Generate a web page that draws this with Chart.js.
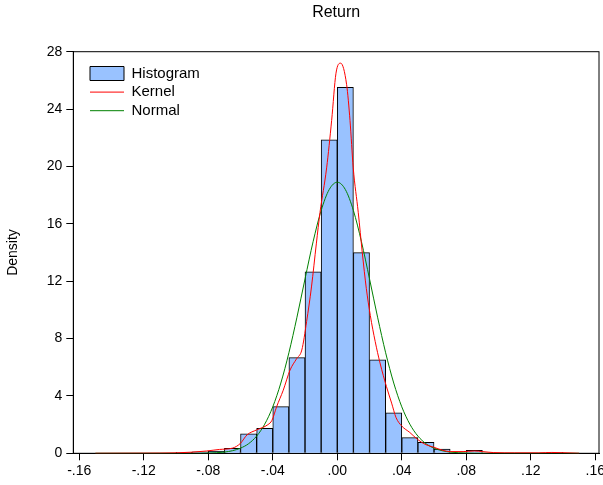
<!DOCTYPE html>
<html>
<head>
<meta charset="utf-8">
<title>Return</title>
<script src="https://cdn.jsdelivr.net/npm/chart.js@4.4.1/dist/chart.umd.min.js"></script>
<style>
  html, body { margin: 0; padding: 0; overflow: hidden; background: #fff; }
  #wrap { position: absolute; left: 0; top: 0; }
</style>
</head>
<body>
<div id="wrap"><canvas id="chart" width="615" height="485"></canvas></div>
<script>
// histogram bins (centre of each 0.01 wide bin) and their density
const binCenters = [-0.095, -0.085, -0.075, -0.065, -0.055, -0.045, -0.035, -0.025, -0.015, -0.005,
                    0.005, 0.015, 0.025, 0.035, 0.045, 0.055, 0.065, 0.075, 0.085, 0.095,
                    0.105, 0.115, 0.125, 0.135];
const histDensity = [0.07, 0.1, 0.15, 0.35, 1.35, 1.74, 3.25, 6.67, 12.66, 21.85,
                     25.52, 13.99, 6.51, 2.83, 1.09, 0.77, 0.3, 0, 0.21, 0,
                     0, 0, 0, 0.07];

// kernel density curve
const kernelX = [-0.15, -0.12, -0.10, -0.09, -0.081, -0.073, -0.065, -0.06, -0.056, -0.05,
                 -0.043, -0.0405, -0.0376, -0.0335, -0.0293, -0.0252, -0.022, -0.019, -0.016, -0.013,
                 -0.0107, -0.0066, -0.0035, -0.0008, 0.0021, 0.0058, 0.0079, 0.0099, 0.013, 0.0155,
                 0.018, 0.0205, 0.0235, 0.0265, 0.0305, 0.0337, 0.0364, 0.04, 0.045, 0.05,
                 0.055, 0.06, 0.065, 0.07, 0.078, 0.085, 0.09, 0.097, 0.11, 0.125,
                 0.133, 0.14, 0.15];
const kernelY = [0, 0.01, 0.03, 0.08, 0.16, 0.27, 0.36, 0.7, 1.28, 1.63,
                 2.0, 2.3, 3.25, 4.4, 5.8, 6.6, 7.2, 9.2, 11.6, 14.6,
                 16.8, 19.9, 23.2, 26.5, 27.2, 25.7, 23.2, 19.9, 16.8, 14.0,
                 11.5, 9.6, 7.8, 6.3, 4.65, 3.5, 2.5, 1.9, 1.45, 0.95,
                 0.6, 0.42, 0.22, 0.12, 0.12, 0.16, 0.12, 0.05, 0.03, 0.03,
                 0.06, 0.04, 0];

// normal curve
const normalX = [-0.15, -0.12, -0.10, -0.09, -0.08, -0.07, -0.065, -0.06, -0.055, -0.05,
                 -0.045, -0.04, -0.035, -0.03, -0.025, -0.02, -0.015, -0.01, -0.005, 0,
                 0.005, 0.01, 0.015, 0.02, 0.025, 0.03, 0.035, 0.04, 0.045, 0.05,
                 0.055, 0.06, 0.065, 0.07, 0.08, 0.09, 0.10, 0.12, 0.15];
const normalY = [0, 0, 0, 0.002, 0.016, 0.085, 0.18, 0.36, 0.67, 1.2,
                 2.03, 3.24, 4.9, 7.01, 9.49, 12.16, 14.75, 16.93, 18.39, 18.9,
                 18.39, 16.93, 14.75, 12.16, 9.49, 7.01, 4.9, 3.24, 2.03, 1.2,
                 0.67, 0.36, 0.18, 0.085, 0.016, 0.002, 0, 0, 0];

const xTickValues = [-0.16, -0.12, -0.08, -0.04, 0, 0.04, 0.08, 0.12, 0.16];
const yTickValues = [0, 4, 8, 12, 16, 20, 24, 28];

Chart.defaults.font.family = "'Liberation Sans', Arial, sans-serif";
Chart.defaults.color = '#000';

function toPoints(xs, ys) {
    return xs.map((x, i) => ({ x: x, y: ys[i] }));
}

// ".04" / "-.16" style labels
function shortLabel(v) {
    let s = Math.abs(v).toFixed(2).replace(/^0/, '');
    return (v < -1e-9 ? '-' : '') + s;
}

// box round the plot area
const framePlugin = {
    id: 'frame',
    beforeDatasetsDraw(chart) {
        const a = chart.chartArea;
        const ctx = chart.ctx;
        ctx.save();
        ctx.strokeStyle = '#000';
        ctx.lineWidth = 1;
        ctx.strokeRect(a.left, a.top, a.right - a.left, a.bottom - a.top);
        ctx.restore();
    }
};

// move the legend a bit inside the plot
const legendShift = {
    id: 'legendShift',
    beforeDraw(chart) {
        if (chart.legend) {
            chart.legend.left = 86.4;
            chart.legend.top = 62.4;
        }
    }
};

new Chart(document.getElementById('chart'), {
    type: 'bar',
    data: {
        datasets: [
            {
                type: 'bar',
                label: 'Histogram',
                data: toPoints(binCenters, histDensity),
                backgroundColor: '#99c2ff',
                borderColor: '#000',
                borderWidth: 1,
                barPercentage: 1,
                categoryPercentage: 1,
                pointStyle: 'rect',
                order: 3
            },
            {
                type: 'line',
                label: 'Kernel',
                data: toPoints(kernelX, kernelY),
                borderColor: '#ff0000',
                backgroundColor: '#ff0000',
                pointBorderColor: '#ff0000',
                borderWidth: 1,
                pointRadius: 0,
                pointStyle: 'line',
                cubicInterpolationMode: 'monotone',
                order: 1
            },
            {
                type: 'line',
                label: 'Normal',
                data: toPoints(normalX, normalY),
                borderColor: '#008000',
                backgroundColor: '#008000',
                pointBorderColor: '#008000',
                borderWidth: 1,
                pointRadius: 0,
                pointStyle: 'line',
                cubicInterpolationMode: 'monotone',
                order: 2
            }
        ]
    },
    options: {
        responsive: false,
        animation: false,
        layout: { padding: { left: 0, right: 16, top: 0, bottom: 0 } },
        scales: {
            x: {
                type: 'linear',
                offset: false,
                min: -0.1637,
                max: 0.1623,
                afterBuildTicks(scale) {
                    scale.ticks = xTickValues.map(v => ({ value: v }));
                },
                afterFit(scale) { scale.height = 31.7; },
                ticks: {
                    autoSkip: false,
                    maxRotation: 0,
                    padding: 2,
                    font: { size: 14 },
                    callback: v => shortLabel(v)
                },
                grid: { offset: false, drawOnChartArea: false, drawTicks: true, tickLength: 7, color: '#000' },
                border: { display: true, color: '#000', width: 1 }
            },
            y: {
                min: 0,
                max: 28,
                afterBuildTicks(scale) {
                    scale.ticks = yTickValues.map(v => ({ value: v }));
                },
                afterFit(scale) { scale.width = 73.3; },
                ticks: { padding: 4, font: { size: 14 } },
                grid: { drawOnChartArea: false, drawTicks: true, tickLength: 7, color: '#000' },
                border: { display: true, color: '#000', width: 1 },
                title: {
                    display: true,
                    text: 'Density',
                    font: { size: 14 },
                    padding: { top: 4.6, bottom: 0 }
                }
            }
        },
        plugins: {
            title: {
                display: true,
                text: 'Return',
                fullSize: false,
                font: { size: 16, weight: 'normal' },
                padding: { top: 3, bottom: 29.5 }
            },
            legend: {
                position: 'chartArea',
                align: 'start',
                labels: {
                    usePointStyle: true,
                    pointStyleWidth: 34,
                    boxWidth: 34,
                    boxHeight: 14,
                    padding: 3.6,
                    font: { size: 15 },
                    color: '#000',
                    sort: (a, b) => a.datasetIndex - b.datasetIndex
                }
            },
            tooltip: { enabled: false }
        }
    },
    plugins: [framePlugin, legendShift]
});
</script>
</body>
</html>
